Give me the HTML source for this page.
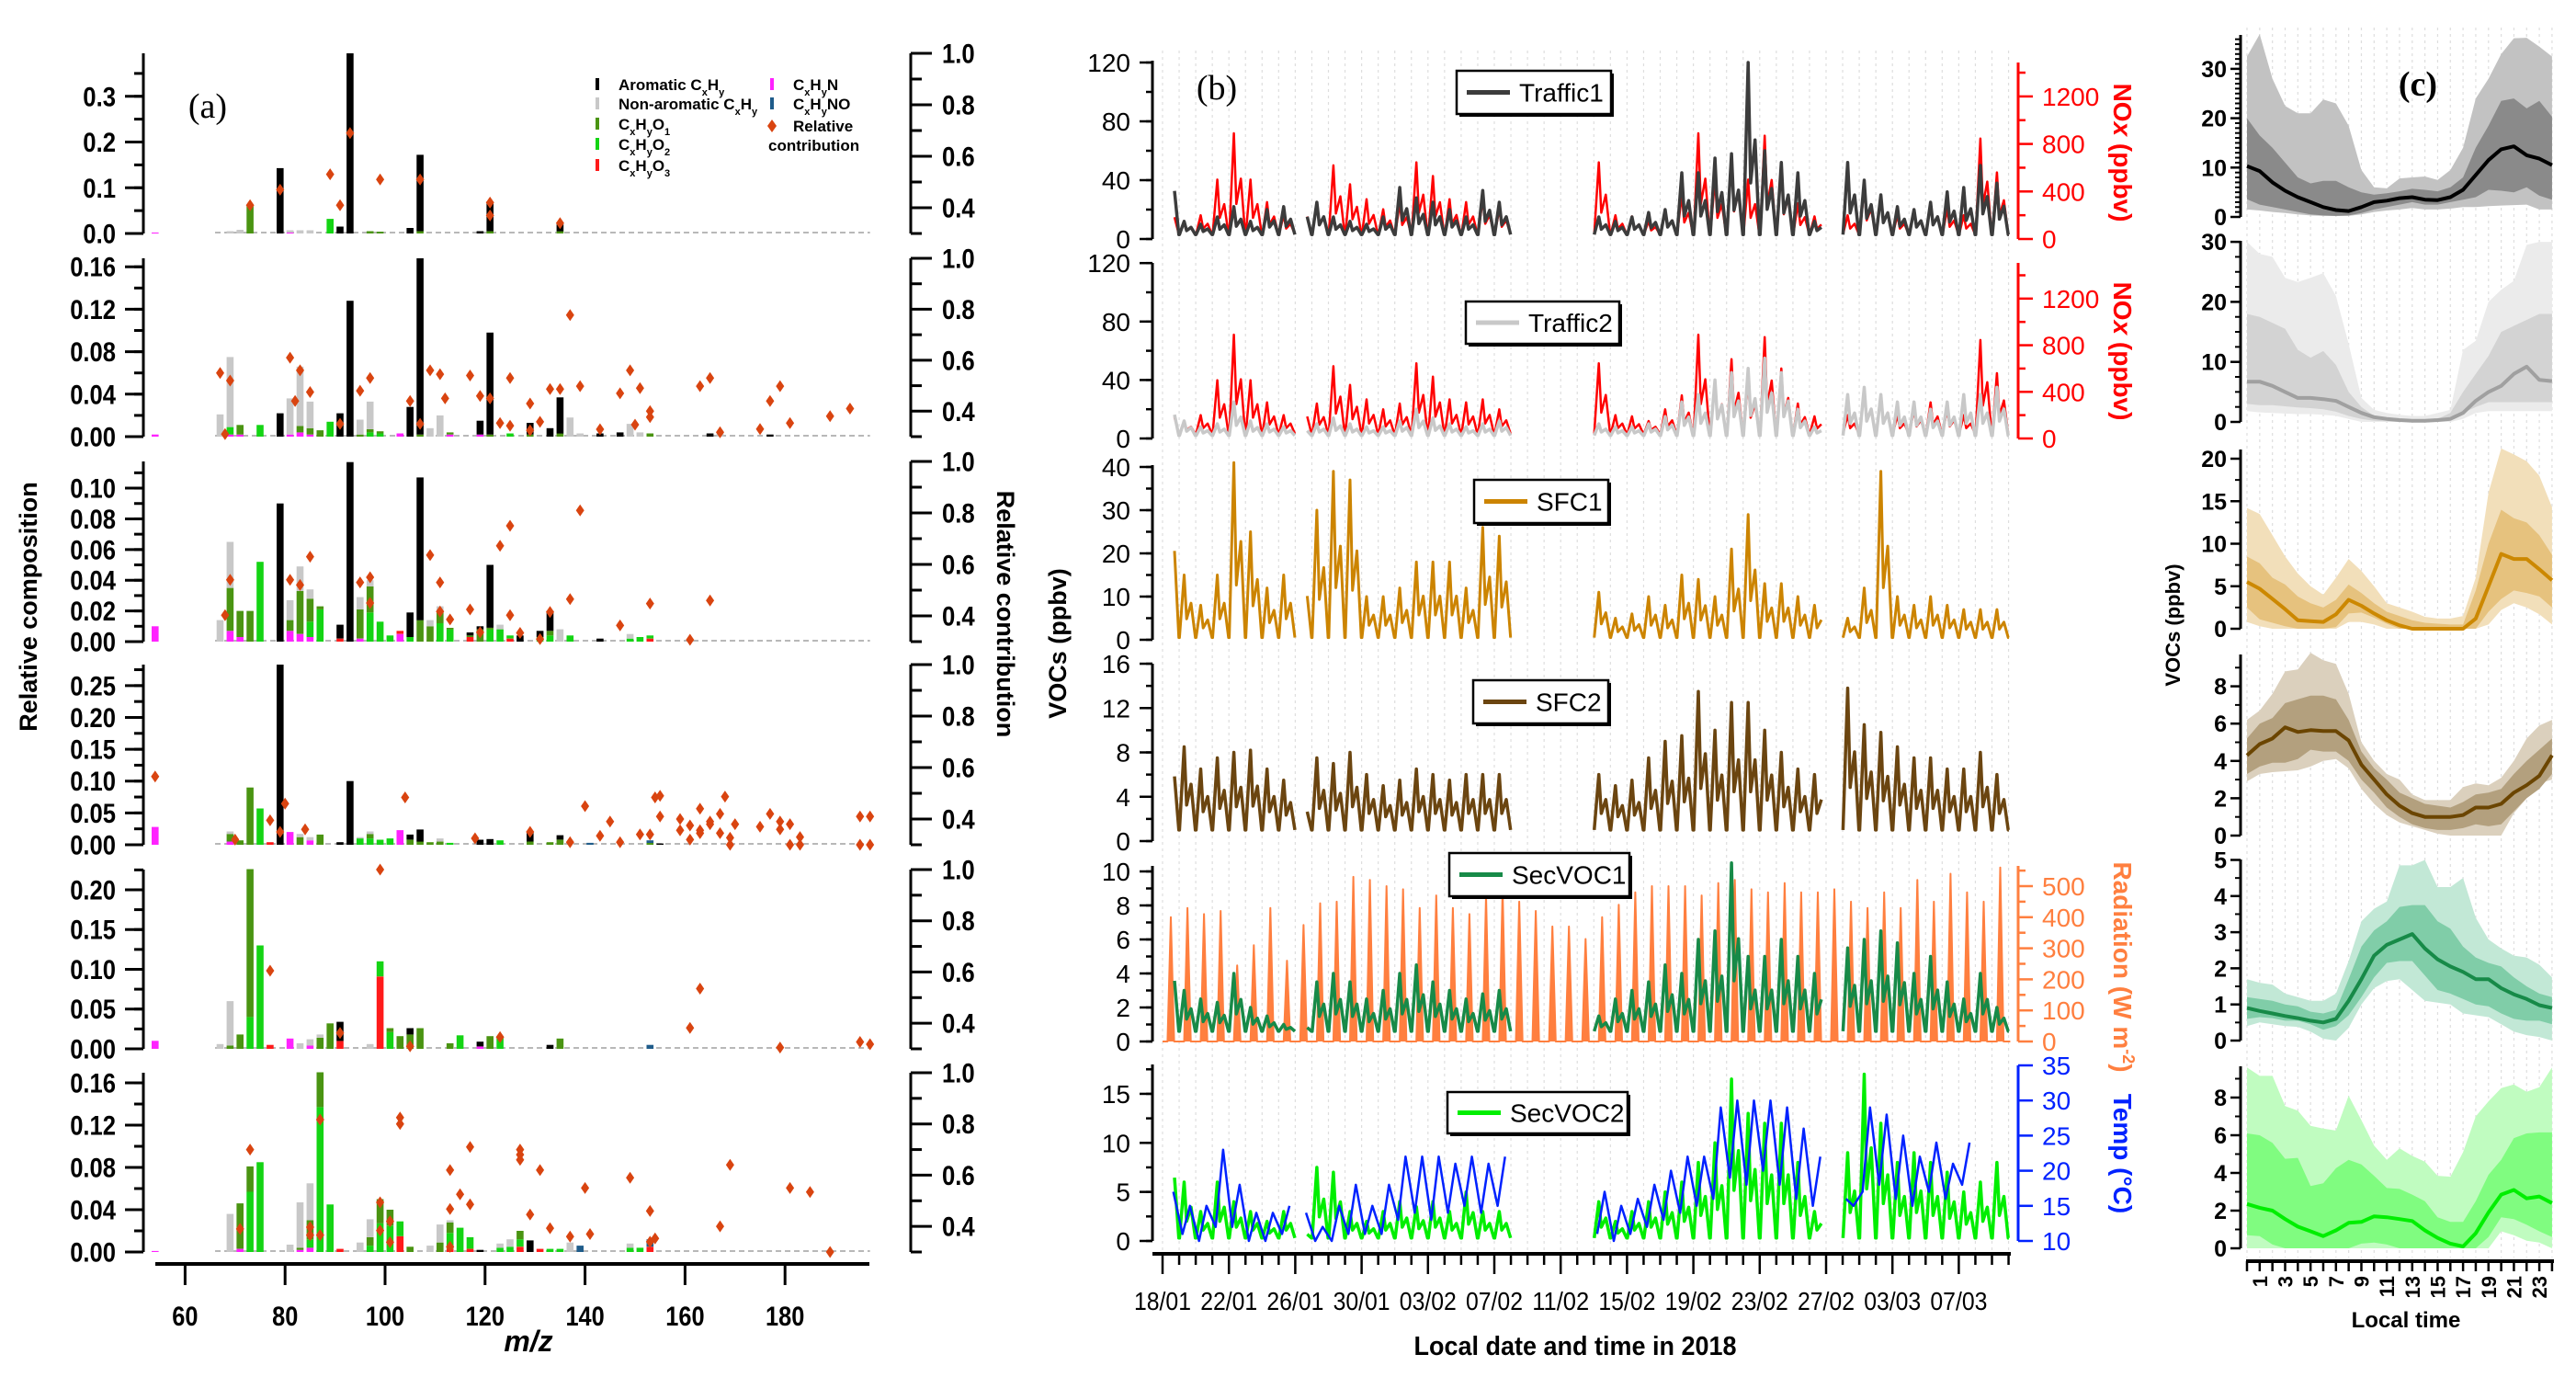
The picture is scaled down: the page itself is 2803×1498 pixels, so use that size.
<!DOCTYPE html>
<html><head><meta charset="utf-8"><title>VOC source factors</title>
<style>html,body{margin:0;padding:0;background:#fff}svg{display:block}</style></head>
<body>
<svg id="chart" width="2803" height="1498" viewBox="0 0 2803 1498" xmlns="http://www.w3.org/2000/svg"></svg>
<script>
// ---------- Panel (a) data: [m/z, N, O3, O2, O1, nonArom, arom, NO]
const barsA1=[[54,.002,0,0,0,0,0],[69,0,0,0,0,.005,0],[71,0,0,0,0,.008,0],[73,0,0,0,.06,0,0],[79,0,0,0,0,0,.143],[81,.002,0,0,0,.005,0],[83,0,0,0,0,.007,0],[85,0,0,0,0,.007,0],[89,0,0,.032,0,0,0],[91,0,0,0,0,0,.015],[93,0,0,0,0,0,.394],[97,0,0,0,.005,0,0],[99,0,0,0,.004,0,0],[105,0,0,0,0,0,.012],[107,0,0,0,.005,0,.167],[119,0,0,0,0,0,.005],[121,0,0,0,.005,0,.065],[135,0,0,0,.005,0,.015]];
const barsA2=[[54,.002,0,0,0,0,0],[67,0,0,0,0,.021,0],[69,.002,0,.007,0,.066,0],[71,.002,0,0,.009,0,0],[75,0,0,.011,0,0,0],[79,0,0,0,0,0,.022],[81,.002,0,0,0,.034,0],[83,.004,0,0,.006,.056,0],[85,.002,0,0,.006,.025,0],[87,0,0,0,.006,0,0],[89,0,0,.014,0,0,0],[91,0,0,0,0,0,.022],[93,0,0,0,0,0,.128],[95,0,0,0,.002,.014,0],[97,0,0,.004,.003,.026,0],[99,0,0,.003,.002,0,0],[103,.003,0,0,0,0,0],[105,0,0,0,0,0,.028],[107,0,0,0,.002,0,.166],[109,0,0,0,0,.008,0],[111,0,0,0,0,.02,0],[113,.002,0,0,.002,0,0],[119,.002,0,0,0,0,.013],[121,0,0,0,.002,0,.096],[125,0,0,.003,0,0,0],[129,0,0,0,.002,0,.011],[133,0,0,0,0,0,.008],[135,0,0,0,.003,0,.034],[137,0,0,0,0,.018,0],[139,0,0,0,0,.003,0],[143,0,0,0,0,0,.003],[147,0,0,0,0,0,.004],[149,0,0,0,0,.012,0],[151,0,0,0,0,.004,0],[153,0,0,0,.003,0,0],[165,0,0,0,0,0,.003],[167,0,0,0,0,.003,0],[177,0,0,0,0,0,.002]];
const barsA3=[[54,.01,0,0,0,0,0],[67,0,0,0,0,.014,0],[69,.007,0,0,.028,.03,0],[71,.003,0,0,.017,0,0],[73,0,0,0,.02,0,0],[75,0,0,.052,0,0,0],[79,0,0,0,0,0,.09],[81,.007,0,0,.007,.013,0],[83,.005,0,0,.028,.016,0],[85,.003,0,.010,.015,.006,0],[87,0,0,.021,.002,0,0],[91,0,.002,0,0,0,.009],[93,0,0,0,0,0,.117],[95,.002,0,0,.019,.008,0],[97,0,0,.019,.017,.004,0],[99,0,0,.013,0,0,0],[101,0,0,.004,0,0,0],[103,.005,.002,0,0,0,0],[105,0,0,.003,0,0,.016],[107,0,0,0,.014,0,.093],[109,0,0,0,.01,.004,0],[111,0,0,.012,.007,.004,0],[113,0,0,.008,.001,0,0],[117,0,.003,0,.001,0,.002],[119,0,0,0,.008,0,.002],[121,0,0,.008,.001,0,.041],[123,0,0,.008,0,.003,0],[125,0,.002,.002,0,0,0],[127,0,0,0,0,0,.004],[131,0,0,.003,0,0,.004],[133,0,0,.004,.003,0,.013],[135,0,0,0,0,.008,0],[137,0,0,.004,0,0,0],[143,0,0,0,0,0,.002],[149,0,0,.002,0,.003,0],[151,0,0,.003,0,0,0],[153,0,.002,.002,0,0,0]];
const barsA4=[[54,.028,0,0,0,0,0],[69,.005,0,0,.012,.004,0],[71,0,0,0,.007,0,0],[73,0,0,0,.09,0,0],[75,0,0,.057,0,0,0],[77,0,.004,0,0,0,0],[79,0,0,0,0,0,.283],[81,.02,0,0,0,0,0],[83,0,0,0,.012,.005,0],[85,.007,0,0,0,.005,0],[87,0,0,0,.016,0,0],[91,0,0,0,0,0,.004],[93,0,0,0,0,0,.1],[95,0,0,.01,0,.002,0],[97,0,0,.01,.007,.004,0],[99,0,0,.008,0,0,0],[101,0,0,.01,0,0,0],[103,.023,0,0,0,0,0],[105,0,0,0,.008,0,.008],[107,0,0,0,.005,0,.019],[109,0,0,0,.004,0,0],[111,0,0,0,.005,.005,0],[113,0,0,.003,0,0,0],[119,0,0,0,0,0,.008],[121,0,0,0,0,0,.009],[123,0,0,.007,0,0,0],[129,0,0,0,.005,0,.015],[133,0,0,0,.004,0,0],[135,0,0,0,.008,0,.007],[141,0,0,0,0,0,0,.003],[153,0,0,0,.003,0,0,.004],[155,0,0,0,0,0,.002]];
const barsA5=[[54,.01,0,0,0,0,0],[67,0,0,0,0,.006,0],[69,0,0,0,.004,.056,0],[71,0,0,0,.018,0,0],[73,0,0,.04,.186,0,0],[75,0,0,.13,0,0,0],[77,0,.005,0,0,0,0],[81,.013,0,0,0,0,0],[83,0,0,0,0,.007,0],[85,.004,0,0,0,.008,0],[87,0,0,0,.014,.004,0],[89,0,0,0,.032,0,0],[91,0,.01,0,0,0,.024],[97,0,0,0,0,.006,0],[99,0,.091,.019,0,0,0],[101,0,0,.021,.005,0,0],[103,0,0,0,.016,0,0],[105,0,0,0,.018,0,.008],[107,0,0,0,.026,0,0],[113,0,0,0,.007,0,0],[115,0,0,.017,0,0,0],[119,.003,0,0,0,0,.006],[121,0,0,0,.016,0,0],[123,0,0,.016,0,0,0],[133,0,0,0,0,0,.005],[135,0,0,0,.013,0,0],[153,0,0,0,0,0,0,.005]];
const barsA6=[[54,.001,0,0,0,0,0],[69,0,0,0,0,.036,0],[71,.003,0,0,.043,0,0],[73,0,0,.057,.024,0,0],[75,0,0,.085,0,0,0],[81,0,0,0,0,.007,0],[83,.002,0,0,.002,.043,0],[85,.004,0,.008,.018,.035,0],[87,0,0,.137,.033,0,0],[89,0,0,.045,0,0,0],[91,0,.003,0,0,0,0],[95,0,0,0,0,.009,0],[97,0,0,.006,.008,.017,0],[99,0,0,.027,.023,0,0],[101,0,0,.025,.015,0,0],[103,0,.015,.014,0,0,0],[105,0,0,0,.005,0,0],[109,0,0,0,0,.006,0],[111,0,0,0,.009,.017,0],[113,0,.003,.015,.01,.002,0],[115,0,0,.023,0,0,0],[117,0,.003,.011,0,0,0],[119,0,0,0,0,0,.002],[123,0,0,.004,0,.004,0],[125,0,0,.005,0,.007,0],[127,0,.005,.007,.008,0,0],[129,0,0,0,0,0,.011],[131,0,.003,0,0,0,0],[133,0,0,.003,0,0,0],[135,0,0,.003,0,0,0],[137,0,0,0,0,.009,0],[139,0,0,0,0,0,0,.006],[149,0,0,.004,0,.004,0],[151,0,0,.004,0,0,0],[153,0,.005,0,0,0,0,.007]];
// relative contribution diamonds [m/z, value]
const diaA1=[[73,.41],[79,.47],[89,.53],[91,.41],[93,.69],[99,.51],[107,.51],[121,.42],[121,.37],[135,.34]];
const diaA2=[[67,.55],[68,.31],[69,.52],[81,.61],[82,.44],[83,.56],[85,.475],[91,.35],[95,.48],[97,.53],[105,.44],[107,.35],[109,.56],[111,.545],[112,.45],[117,.54],[119,.46],[121,.45],[123,.353],[125,.53],[125,.343],[129,.43],[129,.325],[131,.358],[133,.487],[135,.487],[137,.777],[139,.498],[143,.329],[147,.47],[149,.56],[150,.347],[151,.49],[153,.40],[153,.377],[163,.498],[165,.53],[167,.317],[175,.33],[177,.44],[179,.498],[181,.353],[189,.38],[193,.41]];
const diaA3=[[68,.403],[69,.54],[81,.54],[83,.52],[85,.63],[95,.53],[97,.55],[97,.45],[109,.636],[111,.53],[111,.417],[113,.386],[117,.425],[119,.336],[123,.672],[125,.75],[125,.403],[127,.334],[131,.31],[133,.415],[137,.465],[139,.81],[147,.363],[153,.448],[161,.307],[165,.46]];
const diaA4=[[54,.565],[70,.32],[77,.395],[79,.35],[80,.46],[84,.36],[104,.484],[118,.325],[129,.35],[137,.31],[140,.45],[143,.335],[145,.39],[147,.31],[151,.34],[153,.34],[154,.484],[155,.49],[155,.41],[159,.40],[159,.356],[161,.375],[161,.32],[163,.44],[163,.356],[163,.345],[165,.39],[165,.38],[167,.42],[167,.345],[168,.487],[169,.327],[169,.30],[170,.38],[175,.37],[177,.42],[179,.39],[179,.36],[181,.38],[181,.30],[183,.33],[183,.30],[195,.41],[195,.30],[197,.41],[197,.30]];
const diaA5=[[77,.605],[91,.362],[99,1.0],[105,.31],[123,.346],[161,.382],[163,.535],[179,.305],[195,.327],[197,.318]];
const diaA6=[[71,.39],[73,.70],[85,.397],[85,.366],[87,.817],[87,.366],[99,.494],[99,.384],[101,.42],[101,.338],[103,.825],[103,.80],[113,.62],[113,.468],[113,.32],[115,.525],[117,.71],[117,.486],[127,.70],[127,.68],[127,.66],[129,.446],[131,.62],[133,.393],[137,.36],[140,.55],[141,.37],[149,.59],[153,.46],[153,.34],[154,.353],[167,.40],[169,.64],[181,.55],[185,.534],[189,.30]];
const ticksA1=[0,0.1,0.2,0.3], ticksA2=[0,0.04,0.08,0.12,0.16], ticksA3=[0,0.02,0.04,0.06,0.08,0.10], ticksA4=[0,0.05,0.10,0.15,0.20,0.25], ticksA5=[0,0.05,0.10,0.15,0.20], ticksA6=[0,0.04,0.08,0.12,0.16];
const mzTicks=[60,80,100,120,140,160,180];

// ---------- Panel (b) data: daily peak values, index = day since 18/01 (null = no data)
const traffic1=[57,12,10,15,22,12,20,22,25,25,15,12,10,15,35,28,25,20,15,33,25,null,null,null,null,null,15,12,15,18,20,45,45,55,58,120,60,52,45,12,null,52,40,30,22,20,25,32,35,50,38,45];
const nox=[300,150,200,500,890,500,310,200,310,300,620,460,335,250,300,645,530,335,310,335,250,null,null,null,null,null,645,200,190,150,250,370,890,500,680,500,870,600,300,190,null,200,430,370,200,250,310,250,200,845,560,300];
const traffic2=[28,12,8,10,25,12,10,8,8,10,14,10,8,8,12,20,14,10,8,10,12,null,null,null,null,null,10,8,8,10,15,25,30,40,45,48,55,45,20,8,null,30,35,30,25,25,20,25,30,30,35,35];
const sfc1=[37,15,8,15,41,25,12,15,18,30,39,37,10,10,12,18,18,18,12,26,24,null,null,null,null,null,11,5,6,10,8,15,14,10,21,29,13,13,10,8,null,5,12,39,10,8,10,8,7,7,7,6];
const sfc2=[9.8,8.5,6.5,7.5,8,8.2,6.5,5.5,4,7.5,7,8,6,5,5.5,6.5,6,5.5,6,6,6,null,null,null,null,null,6,5,5.5,7.5,9,9.5,13.5,10,12.5,12.5,10,8,6.5,6,null,13.8,10.5,9.8,8.5,7.5,7.5,6.5,6.5,8,6,2.5];
const secvoc1=[6,3,2.5,2.3,4,2,1.5,1,1,3.5,4,3.5,2.5,3,4,4.5,3.5,3,2.5,2.8,3,null,null,null,null,null,1.5,2.5,3,3.5,4.5,4,6,6.5,10.5,5,5,6,5,4,null,5.5,6,6.5,5.8,4,5,3.5,2.5,4,2,1.5];
const radiation=[400,430,410,420,245,310,430,260,375,445,450,530,520,500,490,430,470,430,410,470,490,450,420,370,370,330,400,440,480,500,500,500,470,510,520,490,480,510,480,480,490,450,430,480,430,520,450,540,480,450,560];
const secvoc2=[11.5,6,3,6,4,3,2,3,1,7.5,7,3,2,3,4,3.5,4,3,5,3,3,null,null,null,null,null,4,2,3,4,5,6,8,10,16.5,13,12,12,8,3,null,9,17,12,8,9,8,7,5,6,8,6];
const tempMax=[17,15,15,23,18,14,14,15,14,12,15,18,15,18,22,22,22,21,22,21,22,null,null,null,null,null,17,15,16,18,20,22,22,29,30,30,30,29,26,22,null,15,29,28,25,22,24,21,24,null,null,null];
const tempMin=[12,11,10,12,12,10,10,11,10,10,10,11,11,11,13,14,13,14,15,14,15,null,null,null,null,null,11,10,11,12,13,14,15,16,19,18,20,18,16,15,null,16,17,18,16,15,17,16,18,null,null,null];
const dateLabels=['18/01','22/01','26/01','30/01','03/02','07/02','11/02','15/02','19/02','23/02','27/02','03/03','07/03'];

// ---------- Panel (c) data
const hours=[0,1,2,3,4,5,6,7,8,9,10,11,12,13,14,15,16,17,18,19,20,21,22,23,24];
const t1Med=[10.3,9.3,7,5.3,4,3,2,1.4,1.2,2,3,3.3,3.8,4,3.5,3.4,4,5.5,8.5,11.5,13.7,14.3,12.5,11.8,10.5];
const t1Q3=[20,16.5,14,11,8,6.8,7.3,7.3,6,5,4.5,4.8,5.2,5.7,5.5,5.2,6,8,14,18.5,23.5,24,22,23.5,20.3];
const t1Q1=[3.6,2.5,2,1.5,1,.5,.3,.2,.3,.8,1.5,2,2.5,3,2.5,2.5,3,3.5,4,5.5,5.3,5,6,4.3,3.5];
const t1P90=[32.5,37,28,22.5,21,21,23.8,23,18.5,9.5,6,5.8,7.8,8,8.2,7.5,9.5,14,24,28,33,36.2,36.3,34.5,32.5];
const t1P10=[1.5,1.3,1,.8,.5,.3,.2,.2,.2,.5,1,1.3,1.5,1.8,1.5,1.5,1.7,2,2,2.2,2.3,2.4,2.5,1.5,1.5];
const t2Med=[6.7,6.7,6,5,4,4,3.8,3.5,2.5,1.5,.8,.5,.3,.2,.2,.3,.5,1.5,3.5,5,6,8,9.2,7,6.8];
const t2Q3=[18,17.5,16.5,15.5,12,10.7,11.8,9.5,5,2.5,1,.5,.3,.3,.3,.5,1.5,5,8,11,15,16,17,18,18];
const t2Q1=[3,2.8,2.8,2.6,2.4,2.3,2.1,1.7,1,.5,.2,.1,0,0,0,.1,.3,1.5,2.5,3.3,3.3,3.3,3.3,3.3,3.3];
const t2P90=[30,28,27.5,24,23.3,24,24.8,21,13,4,2,1.5,1.2,1,1,1.5,2,12,13.5,20,22,23.5,29.5,30,30];
const t2P10=[1.8,1.6,1.5,1.4,1.3,1.3,1.2,1,.5,0,0,0,0,0,0,0,0,.5,1.5,1.8,1.8,1.8,1.8,1.8,1.8];
const s1Med=[5.5,4.7,3.5,2.3,1,.9,.8,1.7,3.4,2.7,1.8,1,.4,0,0,0,0,0,1.2,5,8.8,8.2,8.2,7,5.7];
const s1Q3=[8.5,7.7,6,5.2,3.8,3,2.5,3.4,5.2,4.2,3,2,1.5,1,.7,.6,.5,.5,4.5,10,14,13,12.5,11,8.7];
const s1Q1=[2.5,1.1,.7,.3,0,0,0,.2,1.8,1.9,1.3,.6,0,0,0,0,0,0,0,2,3.5,4.5,4.2,3.8,2.5];
const s1P90=[14.2,13.5,11,8.5,6.5,5,4,6,8.2,6.8,5,3,2.5,2,1.4,1.2,1.2,1.5,6,16,21.2,20.5,19.7,18,14.3];
const s1P10=[.8,.3,0,0,0,0,0,0,.8,.8,.5,0,0,0,0,0,0,0,0,.5,2.2,3,2.5,1.7,.5];
const s2Med=[4.3,4.9,5.2,5.8,5.55,5.65,5.6,5.6,5.1,3.8,3,2.2,1.6,1.2,1,1,1,1.1,1.5,1.5,1.7,2.3,2.7,3.2,4.3];
const s2Q3=[5.2,6,6.3,7.1,7.3,7.5,7.5,7.3,6.2,4.5,3.6,3,2.3,2,1.7,1.6,1.5,1.8,2.2,2.3,2.5,3.3,4,4.6,5.2];
const s2Q1=[3.3,3.7,3.9,3.9,4.1,4.6,4.5,4.5,4,3,2.3,1.5,1,.6,.4,.3,.3,.4,.6,.5,.6,1.3,2,2.5,3.3];
const s2P90=[6.2,6.7,7.6,8.8,8.9,9.8,9.4,9.2,7.6,5,4,3.3,3,2.2,1.9,1.9,1.9,2.6,2.8,2.7,3.1,4,5.2,5.9,6.2];
const s2P10=[2.9,3.3,3.4,3.45,3.5,3.7,4,4.1,3.6,2.5,1.7,1.1,.7,.5,.3,.1,0,0,0,0,0,1.2,2,2.8,3];
const v1Med=[.9,.82,.75,.68,.62,.55,.5,.6,1.1,1.7,2.35,2.65,2.8,2.95,2.55,2.25,2.05,1.9,1.7,1.7,1.45,1.28,1.15,.98,.9];
const v1Q3=[1.2,1.15,1.1,1,.95,.8,.75,.85,1.7,2.6,3.05,3.3,3.7,3.75,3.75,3.3,3.1,2.6,2.3,2.15,2.05,1.75,1.5,1.3,1.2];
const v1Q1=[.6,.65,.62,.55,.55,.45,.3,.4,.7,1.2,1.75,2.15,2.2,2.2,1.8,1.4,1.3,1.15,1,.95,.75,.6,.55,.55,.45];
const v1P90=[1.7,1.6,1.55,1.3,1.2,1.1,1.1,1.3,2.2,3.3,3.65,3.85,4.85,4.85,5,4.25,4.25,4.5,3.4,2.8,2.55,2.35,2.3,2.1,1.75];
const v1P10=[.4,.5,.45,.4,.38,.25,.05,0,.35,1,1.45,1.65,1.7,1.4,1.1,1.05,1,.75,.7,.65,.45,.25,.15,.1,0];
const v2Med=[2.35,2.15,2,1.55,1.15,.9,.65,.95,1.35,1.4,1.7,1.65,1.55,1.45,.95,.55,.25,.1,.8,1.9,2.85,3.1,2.65,2.75,2.4];
const v2Q3=[6.1,6,5.6,4.75,4.8,3.3,3.45,4.25,4.7,4.45,3.85,3.2,3.15,2.85,2.5,1.65,1.4,1.4,2.5,3.9,4.7,5.85,6.1,6.15,6.15];
const v2Q1=[.7,.65,.2,0,0,0,0,0,0,.25,.3,.2,0,0,0,0,0,0,0,.6,1.65,1.55,1.25,.9,.6];
const v2P90=[9.6,9.15,9.15,7.55,7.3,6.5,6.35,6.25,8.1,6.8,5.45,4.7,5.3,4.9,4.6,3.85,3.8,5.1,7,7.8,8.5,8.7,8.3,8.55,9.6];
const v2P10=[0,0,0,0,0,0,0,0,0,0,0,0,0,0,0,0,0,0,0,0,.9,.7,.4,.3,0];
const hourLabels=[1,3,5,7,9,11,13,15,17,19,21,23];

// ================= rendering =================
const NS='http://www.w3.org/2000/svg';
const svg=document.getElementById('chart');
function mk(tag,attrs,parent){const e=document.createElementNS(NS,tag);for(const k in attrs)e.setAttribute(k,attrs[k]);(parent||svg).appendChild(e);return e;}
const SANS='"Liberation Sans", Arial, sans-serif';
function narrowW(s,size){let w=0;for(const c of s){w+=('.,/ '.includes(c)?0.25:0.47);}return w*size;}
function label(parent,x,y,s,size,anchor,opts){opts=opts||{};const a={x:x,y:y,'font-family':SANS,'font-size':size,'text-anchor':anchor||'start',fill:opts.fill||'#000'};if(opts.bold)a['font-weight']='bold';if(opts.narrow){a.textLength=narrowW(s,size).toFixed(1);a.lengthAdjust='spacingAndGlyphs';}if(opts.len){a.textLength=opts.len;a.lengthAdjust='spacingAndGlyphs';}if(opts.transform)a.transform=opts.transform;if(opts.style)a['font-style']=opts.style;if(opts.family)a['font-family']=opts.family;const e=mk('text',a,parent);e.textContent=s;return e;}

const bg=mk('rect',{x:0,y:0,width:2803,height:1498,fill:'#fff'});



// ---------------- Panel (a) ----------------
const gA=mk('g',{});


const xMz=mz=>201.4+(mz-60)*5.44;
const catColors=['#ff22ff','#ff1a1a','#14d414','#4a9412','#c8c8c8','#000000','#1f5c8a'];
const catNames=['bar-cxhyn','bar-cxhyo3','bar-cxhyo2','bar-cxhyo1','bar-non-aromatic','bar-aromatic','bar-cxhyno'];
const panelsA=[
 {bars:barsA1,dia:diaA1,ticks:ticksA1,y0:254,top:58,max:.394,minor:.05,dec:1},
 {bars:barsA2,dia:diaA2,ticks:ticksA2,y0:475,top:281,max:.168,minor:.02,dec:2},
 {bars:barsA3,dia:diaA3,ticks:ticksA3,y0:698,top:502,max:.1174,minor:.01,dec:2},
 {bars:barsA4,dia:diaA4,ticks:ticksA4,y0:919,top:723,max:.283,minor:.025,dec:2},
 {bars:barsA5,dia:diaA5,ticks:ticksA5,y0:1141,top:946,max:.2254,minor:.025,dec:2},
 {bars:barsA6,dia:diaA6,ticks:ticksA6,y0:1362,top:1167,max:.1696,minor:.02,dec:2}];
panelsA.forEach((P,pi)=>{
 const g=mk('g',{},gA);
 
 
 const yv=v=>P.y0-(v/P.max)*(P.y0-P.top);
 const yr=v=>P.y0-((v-0.3)/0.7)*(P.y0-P.top);
 const bl=mk('line',{x1:xMz(66),x2:xMz(197),y1:P.y0-1,y2:P.y0-1,stroke:'#b8b8b8','stroke-width':2,'stroke-dasharray':'6,4'},g);
 
 
 P.bars.forEach(b=>{
  let cum=0;const order=[1,2,3,4,5,6,7];
  order.forEach(ci=>{const v=b[ci]||0;if(v<=0)return;
   const r=mk('rect',{x:(xMz(b[0])-3.8).toFixed(1),y:yv(cum+v).toFixed(1),width:7.6,height:(yv(cum)-yv(cum+v)).toFixed(1),fill:catColors[ci-1]},g);
   
   
   cum+=v;});
 });
 P.dia.forEach(d=>{const x=xMz(d[0]),y=yr(d[1]);
  const p=mk('path',{d:`M${x.toFixed(1)},${(y-6.5).toFixed(1)}L${(x+4.5).toFixed(1)},${y.toFixed(1)}L${x.toFixed(1)},${(y+6.5).toFixed(1)}L${(x-4.5).toFixed(1)},${y.toFixed(1)}Z`,fill:'#d94410'},g);
  
  });
 const la=mk('line',{x1:156,x2:156,y1:P.y0,y2:P.top,stroke:'#000','stroke-width':3},g);
 
 
 for(let v=0;v<=P.max+1e-9;v+=P.minor){const tk=mk('line',{x1:146,x2:156,y1:yv(v),y2:yv(v),stroke:'#000','stroke-width':3},g);
  
  }
 P.ticks.forEach(v=>{const y=yv(v);const tk=mk('line',{x1:136,x2:156,y1:y,y2:y,stroke:'#000','stroke-width':3},g);
  
  
  const tl=label(g,126,y+10.5,v.toFixed(P.dec),30,'end',{bold:true,narrow:true});
  
  });
 const ra=mk('line',{x1:991,x2:991,y1:P.y0,y2:P.top,stroke:'#000','stroke-width':3},g);
 
 
 [0.3,0.4,0.5,0.6,0.7,0.8,0.9,1.0].forEach((v,i)=>{const y=yr(v);const major=(i%2==1);
  const tk=mk('line',{x1:991,x2:major?1014:1003,y1:y,y2:y,stroke:'#000','stroke-width':3},g);
  
  
  if(major){const tl=label(g,1025,y+10.5,v.toFixed(1),30,'start',{bold:true,narrow:true});
   
   }});
});
const xaA=mk('line',{x1:169,x2:946,y1:1375,y2:1375,stroke:'#000','stroke-width':4},gA);


mzTicks.forEach(m=>{const x=xMz(m);const tk=mk('line',{x1:x,x2:x,y1:1375,y2:1398,stroke:'#000','stroke-width':3},gA);
 
 
 const tl=label(gA,x,1442,String(m),30,'middle',{bold:true,narrow:true});
 
 });
const mzT=label(gA,575,1470,'m/z',32,'middle',{bold:true,style:'italic'});


const ylA=label(gA,0,0,'Relative composition',27,'middle',{bold:true,transform:'translate(40,660) rotate(-90)'});


const yrA=label(gA,0,0,'Relative contribution',27,'middle',{bold:true,transform:'translate(1085,668) rotate(90)'});


const la_=label(gA,226,128,'(a)',38,'middle',{family:'"Liberation Serif", serif'});


const legA=mk('g',{},gA);


const legItems=[[650,92,'#000','Aromatic C<tspan baseline-shift="sub" font-size="11">x</tspan>H<tspan baseline-shift="sub" font-size="11">y</tspan>'],
 [650,113,'#c8c8c8','Non-aromatic C<tspan baseline-shift="sub" font-size="11">x</tspan>H<tspan baseline-shift="sub" font-size="11">y</tspan>'],
 [650,135,'#4a9412','C<tspan baseline-shift="sub" font-size="11">x</tspan>H<tspan baseline-shift="sub" font-size="11">y</tspan>O<tspan baseline-shift="sub" font-size="11">1</tspan>'],
 [650,157,'#14d414','C<tspan baseline-shift="sub" font-size="11">x</tspan>H<tspan baseline-shift="sub" font-size="11">y</tspan>O<tspan baseline-shift="sub" font-size="11">2</tspan>'],
 [650,180,'#ff1a1a','C<tspan baseline-shift="sub" font-size="11">x</tspan>H<tspan baseline-shift="sub" font-size="11">y</tspan>O<tspan baseline-shift="sub" font-size="11">3</tspan>'],
 [840,92,'#ff22ff','C<tspan baseline-shift="sub" font-size="11">x</tspan>H<tspan baseline-shift="sub" font-size="11">y</tspan>N'],
 [840,113,'#1f5c8a','C<tspan baseline-shift="sub" font-size="11">x</tspan>H<tspan baseline-shift="sub" font-size="11">y</tspan>NO']];
legItems.forEach(it=>{const m=mk('rect',{x:it[0]-2,y:it[1]-7,width:4,height:13,fill:it[2]},legA);
 
 
 const t=mk('text',{x:it[0]+23,y:it[1]+6,'font-family':SANS,'font-size':17,'font-weight':'bold'},legA);
 t.innerHTML=it[3];
 
 });
const ldm=mk('path',{d:'M840,130L845,137L840,144L835,137Z',fill:'#d94410'},legA);


const lrt=label(legA,863,143,'Relative',17,'start',{bold:true});


const lrt2=label(legA,836,164,'contribution',17,'start',{bold:true});



// ---------------- Panel (b) ----------------
const gB=mk('g',{});


const xDay=t=>1265+18.05*t;
for(let d=0;d<=51;d++){const gl=mk('line',{x1:xDay(d),x2:xDay(d),y1:55,y2:1362,stroke:'#dedede','stroke-width':1.2,'stroke-dasharray':'3,4'},gB);
 
 }
const segsMain=[[0.5,8.0],[8.6,21.0],[26.0,39.8],[41.0,51.1]];
const segsTemp=[[0.5,8.0],[8.6,21.0],[26.0,39.8],[41.0,48.7]];
function dailyPts(arr,base){const pts=[];arr.forEach((p,d)=>{if(p==null)return;const b=Math.min(base,p);
 pts.push([d+0.02,b],[d+0.3,p],[d+0.45,b+(p-b)*0.3],[d+0.72,b+(p-b)*0.55],[d+0.98,b]);});return pts;}
function tempPts(mx,mn){const pts=[];mx.forEach((p,d)=>{if(p==null)return;pts.push([d+0.2,mn[d]],[d+0.65,p]);});return pts;}
function drawSeries(parent,pts,segs,yf,color,w,name){segs.forEach(s=>{const ps=pts.filter(p=>p[0]>=s[0]&&p[0]<=s[1]);if(ps.length<2)return;
 const dd='M'+ps.map(p=>xDay(p[0]).toFixed(1)+','+yf(p[1]).toFixed(1)).join('L');
 const e=mk('path',{d:dd,fill:'none',stroke:color,'stroke-width':w,'stroke-linejoin':'round'},parent);
 
 });}
function leftAxis(parent,y0,ppu,top,labels,minor){const a=mk('line',{x1:1254,x2:1254,y1:y0,y2:top,stroke:'#000','stroke-width':3},parent);
 
 
 const mx=(y0-top)/ppu;for(let v=0;v<=mx+1e-9;v+=minor){const tk=mk('line',{x1:1247,x2:1254,y1:y0-v*ppu,y2:y0-v*ppu,stroke:'#000','stroke-width':2.5},parent);
  
  }
 labels.forEach(v=>{const y=y0-v*ppu;const tk=mk('line',{x1:1240,x2:1254,y1:y,y2:y,stroke:'#000','stroke-width':2.5},parent);
  
  
  const tl=label(parent,1230,y+10,String(v),28,'end');
  
  });}
function rightAxis(parent,y0,ppu,top,labels,minor,color){const a=mk('line',{x1:2196,x2:2196,y1:y0,y2:top,stroke:color,'stroke-width':3},parent);
 
 
 const mx=(y0-top)/ppu;for(let v=0;v<=mx+1e-9;v+=minor){const major=labels.some(l=>Math.abs(l-v)<1e-6);const y=y0-v*ppu;
  const tk=mk('line',{x1:2196,x2:major?2212:2204,y1:y,y2:y,stroke:color,'stroke-width':2.5},parent);
  
  }
 labels.forEach(v=>{const y=y0-v*ppu;const tl=label(parent,2222,y+10,String(v),28,'start',{fill:color});
  
  });}
function legendBox(parent,x1,y1,x2,y2,color,text,name){const g=mk('g',{},parent);
 
 
 const sh=mk('rect',{x:x1+3,y:y1+3,width:x2-x1,height:y2-y1,fill:'#000'},g);
 
 
 const r=mk('rect',{x:x1,y:y1,width:x2-x1,height:y2-y1,fill:'#fff',stroke:'#000','stroke-width':2.5},g);
 
 
 const ym=(y1+y2)/2;const l=mk('line',{x1:x1+11,x2:x1+58,y1:ym,y2:ym,stroke:color,'stroke-width':5},g);
 
 
 const t=label(g,x1+68,ym+10,text,28,'start');
 
 }
function rightTitle(parent,x,yc,html,color,name){const t=mk('text',{'font-family':SANS,'font-size':28,'font-weight':'bold',fill:color,'text-anchor':'middle',transform:`translate(${x},${yc}) rotate(90)`},parent);
 t.innerHTML=html;
 
 }

const b1=mk('g',{},gB);


drawSeries(b1,dailyPts(nox,40),segsMain,v=>260-v*0.12925,'#ff0000',2.5,'line-nox');
drawSeries(b1,dailyPts(traffic1,3),segsMain,v=>260-v*1.6,'#3c3c3c',3.5,'line-traffic1');
leftAxis(b1,260,1.6,66,[0,40,80,120],20);
rightAxis(b1,260,0.12925,68,[0,400,800,1200],200,'#ff0000');
rightTitle(b1,2300,166,'NO<tspan font-style="italic">x</tspan> (ppbv)','#ff0000','right-axis-title-nox-1');
legendBox(b1,1585,77,1753,124,'#3c3c3c','Traffic1','legend-traffic1');
const lb=label(gB,1324,108,'(b)',38,'middle',{family:'"Liberation Serif", serif'});


const b2=mk('g',{},gB);


drawSeries(b2,dailyPts(nox,40),segsMain,v=>477-v*0.1268,'#ff0000',2.5,'line-nox');
drawSeries(b2,dailyPts(traffic2,2),segsMain,v=>477-v*1.59,'#c8c8c8',3.5,'line-traffic2');
leftAxis(b2,477,1.59,286,[0,40,80,120],20);
rightAxis(b2,477,0.1268,286,[0,400,800,1200],200,'#ff0000');
rightTitle(b2,2300,382,'NO<tspan font-style="italic">x</tspan> (ppbv)','#ff0000','right-axis-title-nox-2');
legendBox(b2,1595,328,1762,374,'#c8c8c8','Traffic2','legend-traffic2');
const b3=mk('g',{},gB);


drawSeries(b3,dailyPts(sfc1,0.5),segsMain,v=>696-v*4.7,'#cc8400',3,'line-sfc1');
leftAxis(b3,696,4.7,506,[0,10,20,30,40],5);
legendBox(b3,1604,522,1750,569,'#cc8400','SFC1','legend-sfc1');
const b4=mk('g',{},gB);


drawSeries(b4,dailyPts(sfc2,1),segsMain,v=>915-v*12.06,'#6b4510',3.5,'line-sfc2');
leftAxis(b4,915,12.06,722,[0,4,8,12,16],2);
legendBox(b4,1603,740,1750,787,'#6b4510','SFC2','legend-sfc2');
const b5=mk('g',{},gB);


{let dd='M'+xDay(0).toFixed(1)+',1133';radiation.forEach((r,d)=>{dd+='L'+xDay(d+0.3).toFixed(1)+',1133L'+xDay(d+0.5).toFixed(1)+','+(1133-r*0.338).toFixed(1)+'L'+xDay(d+0.7).toFixed(1)+',1133';});dd+='L'+xDay(51.1).toFixed(1)+',1133';
 const rp=mk('path',{d:dd,fill:'#ff7f3f',stroke:'#ff7f3f','stroke-width':2,'stroke-linejoin':'round'},b5);
 
 }
drawSeries(b5,dailyPts(secvoc1,0.6),segsMain,v=>1133-v*18.5,'#178a48',3.5,'line-secvoc1');
leftAxis(b5,1133,18.5,942,[0,2,4,6,8,10],1);
rightAxis(b5,1133,0.338,942,[0,100,200,300,400,500],50,'#ff7f3f');
rightTitle(b5,2300,1052,'Radiation (W m<tspan baseline-shift="super" font-size="18">-2</tspan>)','#ff7f3f','right-axis-title-radiation');
legendBox(b5,1577,928,1773,975,'#178a48','SecVOC1','legend-secvoc1');
const b6=mk('g',{},gB);


drawSeries(b6,dailyPts(secvoc2,0.3),segsMain,v=>1350-v*10.67,'#00ee00',3.5,'line-secvoc2');
drawSeries(b6,tempPts(tempMax,tempMin),segsTemp,v=>1350-(v-10)*7.64,'#0022ff',2.5,'line-temperature');
leftAxis(b6,1350,10.67,1158,[0,5,10,15],2.5);
{const a=mk('line',{x1:2196,x2:2196,y1:1350,y2:1159,stroke:'#0022ff','stroke-width':3},b6);
 
 
 [10,15,20,25,30,35].forEach(v=>{const y=1350-(v-10)*7.64;const tk=mk('line',{x1:2196,x2:2212,y1:y,y2:y,stroke:'#0022ff','stroke-width':2.5},b6);
  
  
  const tl=label(b6,2222,y+10,String(v),28,'start',{fill:'#0022ff'});
  
  });}
rightTitle(b6,2300,1255,'Temp (°C)','#0022ff','right-axis-title-temp');
legendBox(b6,1575,1188,1771,1233,'#00ee00','SecVOC2','legend-secvoc2');
const xaB=mk('line',{x1:1254,x2:2188,y1:1364,y2:1364,stroke:'#000','stroke-width':4},gB);


for(let d=0;d<=51;d++){const major=d%4==0;const tk=mk('line',{x1:xDay(d),x2:xDay(d),y1:1364,y2:major?1386:1376,stroke:'#000','stroke-width':2.5},gB);
 
 }
dateLabels.forEach((s,i)=>{const tl=label(gB,xDay(i*4),1425,s,28,'middle',{len:62});
 
 });
const xtB=label(gB,1714,1474,'Local date and time in 2018',29,'middle',{bold:true,len:351});


const ytB=label(gB,0,0,'VOCs (ppbv)',27,'middle',{bold:true,transform:'translate(1160,700) rotate(-90)'});



// ---------------- Panel (c) ----------------
const gC=mk('g',{});


const xH=h=>2445+13.83*h;
for(let h=0;h<=24;h++){const gl=mk('line',{x1:xH(h),x2:xH(h),y1:30,y2:1368,stroke:'#dedede','stroke-width':1.2,'stroke-dasharray':'3,4'},gC);
 
 }
const panelsC=[
 {med:t1Med,q1:t1Q1,q3:t1Q3,p10:t1P10,p90:t1P90,y0:236,ppu:5.37,top:38,labels:[0,10,20,30],minor:2,c:['#c2c2c2','#8a8a8a','#000000'],n:'traffic1'},
 {med:t2Med,q1:t2Q1,q3:t2Q3,p10:t2P10,p90:t2P90,y0:459,ppu:6.53,top:262,labels:[0,10,20,30],minor:5,c:['#ebebeb','#d3d3d3','#a0a0a0'],n:'traffic2'},
 {med:s1Med,q1:s1Q1,q3:s1Q3,p10:s1P10,p90:s1P90,y0:684,ppu:9.25,top:489,labels:[0,5,10,15,20],minor:5,c:['#f2dfba','#e6c27e','#cc8800'],n:'sfc1'},
 {med:s2Med,q1:s2Q1,q3:s2Q3,p10:s2P10,p90:s2P90,y0:909,ppu:20.3,top:712,labels:[0,2,4,6,8],minor:2,c:['#dbd0bd','#b3a07e','#6b4500'],n:'sfc2'},
 {med:v1Med,q1:v1Q1,q3:v1Q3,p10:v1P10,p90:v1P90,y0:1132,ppu:39.3,top:935,labels:[0,1,2,3,4,5],minor:1,c:['#c2e8d6','#80cda8','#178a48'],n:'secvoc1'},
 {med:v2Med,q1:v2Q1,q3:v2Q3,p10:v2P10,p90:v2P90,y0:1358,ppu:20.5,top:1160,labels:[0,2,4,6,8],minor:2,c:['#c0fcc0','#80fc80','#00ee00'],n:'secvoc2'}];
panelsC.forEach(P=>{const g=mk('g',{},gC);
 
 
 const yv=v=>P.y0-v*P.ppu;
 function band(up,lo,col,name){const pts=hours.map((h,i)=>xH(h).toFixed(1)+','+yv(up[i]).toFixed(1)).concat(hours.slice().reverse().map(h=>xH(h).toFixed(1)+','+yv(lo[h]).toFixed(1)));
  const e=mk('polygon',{points:pts.join(' '),fill:col},g);
  
  }
 band(P.p90,P.p10,P.c[0],'band-10-90');
 band(P.q3,P.q1,P.c[1],'band-25-75');
 const ml=mk('polyline',{points:hours.map((h,i)=>xH(h).toFixed(1)+','+yv(P.med[i]).toFixed(1)).join(' '),fill:'none',stroke:P.c[2],'stroke-width':4,'stroke-linejoin':'round'},g);
 
 
 const ax=mk('line',{x1:2438,x2:2438,y1:P.y0,y2:P.top,stroke:'#000','stroke-width':3},g);
 
 
 const mx=(P.y0-P.top)/P.ppu;for(let v=0;v<=mx+1e-9;v+=P.minor/2){const tk=mk('line',{x1:2432,x2:2438,y1:yv(v),y2:yv(v),stroke:'#000','stroke-width':2},g);
  
  }
 P.labels.forEach(v=>{const tk=mk('line',{x1:2427,x2:2438,y1:yv(v),y2:yv(v),stroke:'#000','stroke-width':2.5},g);
  
  
  const tl=label(g,2423,yv(v)+9,String(v),25,'end',{bold:true});
  
  });
});
const xaC=mk('line',{x1:2444,x2:2779,y1:1372,y2:1372,stroke:'#000','stroke-width':4},gC);


for(let h=0;h<=24;h++){const tk=mk('line',{x1:xH(h),x2:xH(h),y1:1372,y2:1383,stroke:'#000','stroke-width':2.5},gC);
 
 }
hourLabels.forEach(h=>{const x=xH(h);const tl=label(gC,0,0,String(h),22,'end',{bold:true,transform:`translate(${x+8},${1388}) rotate(-90)`});
 
 });
const xtC=label(gC,2618,1444,'Local time',24,'middle',{bold:true});


const ytC=label(gC,0,0,'VOCs (ppbv)',22,'middle',{bold:true,transform:'translate(2372,680) rotate(-90)'});


const lc=label(gC,2631,104,'(c)',38,'middle',{family:'"Liberation Serif", serif',bold:true});


</script>
</body></html>
